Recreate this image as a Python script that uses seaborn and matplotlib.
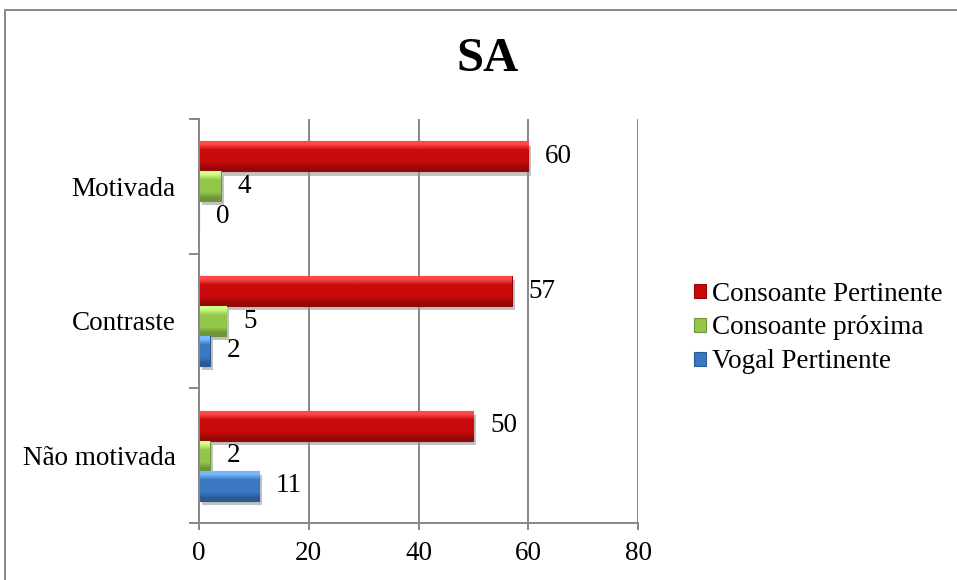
import numpy as np
import pandas as pd
import matplotlib
matplotlib.use("Agg")
import matplotlib.pyplot as plt
import matplotlib.patheffects as pe
from matplotlib.patches import Patch, Rectangle
from matplotlib.colors import to_rgb
import seaborn as sns

# Data
categories = ["Motivada", "Contraste", "Não motivada"]
series = ["Consoante Pertinente", "Consoante próxima", "Vogal Pertinente"]
consoante_pertinente = [60, 57, 50]
consoante_proxima = [4, 5, 2]
vogal_pertinente = [0, 2, 11]
x_ticks = [0, 20, 40, 60, 80]
title = "SA"

colors = {"Consoante Pertinente": "#C80A0A",
          "Consoante próxima": "#92C74A",
          "Vogal Pertinente": "#3A78C2"}

df = pd.DataFrame({
    "categoria": categories * 3,
    "serie": [series[0]] * 3 + [series[1]] * 3 + [series[2]] * 3,
    "valor": consoante_pertinente + consoante_proxima + vogal_pertinente,
})

sns.set_theme(style="white")
plt.rcParams["font.family"] = ["Liberation Serif", "DejaVu Serif"]
plt.rcParams["text.color"] = "black"
plt.rcParams["axes.labelcolor"] = "black"

fig = plt.figure(figsize=(9.57, 5.80), dpi=100)
ax = fig.add_axes([199 / 957, 1 - 523 / 580, (638 - 199) / 957, (523 - 119) / 580])

sns.barplot(data=df, y="categoria", x="valor", hue="serie", order=categories,
            hue_order=series, palette=colors, orient="h", width=0.667, gap=0,
            ax=ax, legend=False, saturation=1)

gray = "#878787"
ax.set_xlim(0, 80)
ax.set_ylim(2.5, -0.5)
ax.set_xticks(x_ticks)
ax.set_xticklabels([str(v) for v in x_ticks])
ax.xaxis.grid(True, color=gray, linewidth=1.4)
ax.yaxis.grid(False)
ax.set_axisbelow(True)
for s in ["top", "right"]:
    ax.spines[s].set_visible(False)
for s in ["left", "bottom"]:
    ax.spines[s].set_color(gray)
    ax.spines[s].set_linewidth(1.4)
ax.set_xlabel("")
ax.set_ylabel("")

# category labels centred, ticks on band boundaries
ax.set_yticks(range(len(categories)))
ax.set_yticks([-0.5, 0.5, 1.5, 2.5], minor=True)
ax.tick_params(axis="y", which="major", length=0, pad=17, labelsize=19.5,
               labelcolor="black")
ax.tick_params(axis="y", which="minor", length=7, width=1.4, color=gray,
               direction="out", left=True)
ax.tick_params(axis="x", which="major", length=5, width=1.4, color=gray,
               direction="out", bottom=True, pad=8, labelsize=19.5,
               labelcolor="black")

# bevelled look with soft shadow
for container, name in zip(ax.containers, series):
    base = np.array(to_rgb(colors[name]))
    light = np.clip(base + 0.25, 0, 1)
    dark = base * 0.75
    grad = np.array([light, base, base, base, dark])[:, None, :]
    for bar in container:
        bar.set_edgecolor(dark)
        bar.set_linewidth(0.8)
        bar.set_path_effects([pe.SimplePatchShadow(offset=(2, -3),
                                                   shadow_rgbFace="#9a9a9a",
                                                   alpha=0.6),
                              pe.Normal()])
        w = bar.get_width()
        if w > 0:
            y0 = bar.get_y()
            h = bar.get_height()
            im = ax.imshow(grad, extent=(bar.get_x(), bar.get_x() + w,
                                         y0 + h, y0),
                           aspect="auto", interpolation="bilinear",
                           zorder=bar.get_zorder() + 0.1)
            im.set_clip_path(bar)
    ax.bar_label(container, labels=[f"{v:g}" for v in container.datavalues],
                 padding=12, fontsize=19.5, color="black")
ax.set_aspect("auto")
ax.set_xlim(0, 80)
ax.set_ylim(2.5, -0.5)

# legend
handles = [Patch(facecolor=colors[s], edgecolor=np.array(to_rgb(colors[s])) * 0.75,
                 linewidth=0.8) for s in series]
fig.legend(handles, series, loc="center left", bbox_to_anchor=(680 / 957, 1 - 328 / 580),
           frameon=False, fontsize=19.5, handlelength=0.45, handleheight=0.45,
           handletextpad=0.25, labelspacing=0.33, borderpad=0,
           labelcolor="black")

fig.text(488 / 957, 1 - 59 / 580, title, ha="center", va="center",
         fontsize=35, fontweight="bold", color="black")

# outer chart border
fig.add_artist(Rectangle((5 / 957, -0.05), 1.1, 1 - 10 / 580 + 0.05,
                         transform=fig.transFigure, fill=False,
                         edgecolor=gray, linewidth=1.4))

fig.savefig("out.png", dpi=100, facecolor="white")
